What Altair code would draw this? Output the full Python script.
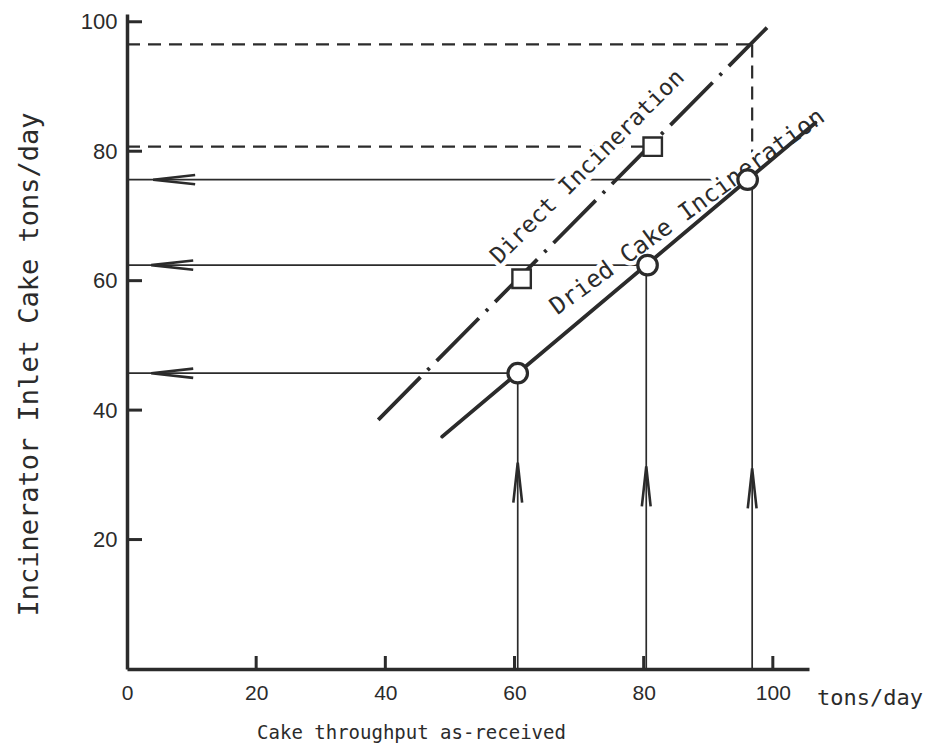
import altair as alt
import pandas as pd

# ---------------- data ----------------
x_tick_labels = [0, 20, 40, 60, 80, 100]
y_tick_labels = [20, 40, 60, 80, 100]
inner_x_ticks = [20, 40, 60, 80, 100]
inner_y_ticks = [20, 40, 60, 80, 100]

direct_x = [38.9, 99.1]
direct_y = [38.5, 99.1]
dried_x = [48.8, 106.6]
dried_y = [35.9, 84.4]

circle_x = [60.5, 80.6, 96.1]
circle_y = [45.7, 62.4, 75.6]
square_x = [61.1, 81.4]
square_y = [60.3, 80.7]

# solid guide lines (horizontal: from y axis to circle, vertical: from x axis to circle)
h_solid_y = [45.7, 62.4, 75.6]
h_solid_x2 = [60.5, 80.6, 96.1]
v_solid_x = [60.5, 80.4, 96.8]
v_solid_y2 = [45.7, 62.4, 75.6]

# dashed guide lines
dash_x = [0, 0, 96.8]
dash_y = [80.7, 96.5, 96.5]
dash_x2 = [81.4, 96.8, 96.8]
dash_y2 = [80.7, 96.5, 75.6]

# arrow heads (centre of each head)
left_arrow_x = [7.0, 7.0, 7.3]
left_arrow_y = [45.7, 62.4, 75.6]
up_arrow_x = [60.5, 80.4, 96.8]
up_arrow_y = [28.8, 28.2, 27.9]

label_direct = "Direct Incineration"
label_dried = "Dried Cake Incineration"
direct_label_x, direct_label_y = [71.3], [77.6]
dried_label_x, dried_label_y = [86.8], [70.6]

# ---------------- styling ----------------
INK = "#2b2b2b"
MONO = "DejaVu Sans Mono"
SANS = "Liberation Sans"

xs = alt.Scale(domain=[0, 105.6], nice=False, zero=False)
ys = alt.Scale(domain=[0, 101.2], nice=False, zero=False)

W, H = 682, 655

X_AXIS = alt.Axis(
    values=x_tick_labels, ticks=False, tickSize=0, grid=False,
    domainWidth=3.5, domainColor=INK,
    labelFont=SANS, labelFontSize=21, labelColor=INK, labelPadding=13,
    labelFlush=False,
    title="Cake throughput as-received", titleFont=MONO, titleFontSize=19,
    titleFontWeight="normal", titleColor=INK,
    titleX=284, titleY=69, titleAlign="center", titleBaseline="alphabetic")
Y_AXIS = alt.Axis(
    values=y_tick_labels, ticks=False, tickSize=0, grid=False,
    domainWidth=3.5, domainColor=INK,
    labelFont=SANS, labelFontSize=22, labelColor=INK, labelPadding=10,
    labelFlush=False,
    title="Incinerator Inlet Cake  tons/day", titleFont=MONO, titleFontSize=27,
    titleFontWeight="normal", titleColor=INK, titleAngle=270,
    titleX=-98, titleY=350, titleAlign="center", titleBaseline="middle")


def X(field="x"):
    return alt.X(f"{field}:Q", scale=xs, axis=X_AXIS)


def Y(field="y"):
    return alt.Y(f"{field}:Q", scale=ys, axis=Y_AXIS)


# inner ticks
xt = alt.Chart(pd.DataFrame({"x": inner_x_ticks})).mark_rule(
    color=INK, strokeWidth=3).encode(
    x=X(), y=alt.value(H), y2=alt.value(H - 13))
yt = alt.Chart(pd.DataFrame({"y": inner_y_ticks})).mark_rule(
    color=INK, strokeWidth=3).encode(
    y=Y(), x=alt.value(0), x2=alt.value(15))

# solid guides
hs = alt.Chart(pd.DataFrame({"x": [0] * 3, "y": h_solid_y, "x2": h_solid_x2})).mark_rule(
    color=INK, strokeWidth=1.7).encode(x=X(), x2="x2:Q", y=Y())
vs = alt.Chart(pd.DataFrame({"x": v_solid_x, "y": [0] * 3, "y2": v_solid_y2})).mark_rule(
    color=INK, strokeWidth=1.7).encode(x=X(), y=Y(), y2="y2:Q")

# dashed guides
ds = alt.Chart(pd.DataFrame({"x": dash_x, "y": dash_y, "x2": dash_x2, "y2": dash_y2})).mark_rule(
    color=INK, strokeWidth=2.2, strokeDash=[13, 8]).encode(
    x=X(), x2="x2:Q", y=Y(), y2="y2:Q")


def label_layers(text, lx, ly, angle, size):
    df = pd.DataFrame({"x": lx, "y": ly, "t": [text]})
    halo = alt.Chart(df).mark_text(
        font=MONO, fontSize=size, angle=angle, align="center", baseline="middle",
        stroke="white", strokeWidth=9, color="white").encode(x=X(), y=Y(), text="t:N")
    txt = alt.Chart(df).mark_text(
        font=MONO, fontSize=size, angle=angle, align="center", baseline="middle",
        color=INK).encode(x=X(), y=Y(), text="t:N")
    return halo, txt


d_halo, d_txt = label_layers(label_direct, direct_label_x, direct_label_y, 315, 23)
c_halo, c_txt = label_layers(label_dried, dried_label_x, dried_label_y, 324, 24)

# main lines
direct = alt.Chart(pd.DataFrame({"x": direct_x, "y": direct_y})).mark_line(
    color=INK, strokeWidth=3.8, strokeDash=[60, 10, 3, 10], strokeCap="butt").encode(
    x=X(), y=Y())
dried = alt.Chart(pd.DataFrame({"x": dried_x, "y": dried_y})).mark_line(
    color=INK, strokeWidth=3.8, strokeCap="round").encode(x=X(), y=Y())

# arrow heads
la = alt.Chart(pd.DataFrame({"x": left_arrow_x, "y": left_arrow_y})).mark_point(
    shape="M 1 -0.22 L -1 0 L 1 0.22", filled=False, stroke=INK, strokeWidth=2.6,
    size=1764, opacity=1).encode(x=X(), y=Y())
ua = alt.Chart(pd.DataFrame({"x": up_arrow_x, "y": up_arrow_y})).mark_point(
    shape="M -0.22 1 L 0 -1 L 0.22 1", filled=False, stroke=INK, strokeWidth=2.6,
    size=1600, opacity=1).encode(x=X(), y=Y())

# markers
circles = alt.Chart(pd.DataFrame({"x": circle_x, "y": circle_y})).mark_point(
    shape="circle", filled=True, fill="white", stroke=INK, strokeWidth=3.2,
    size=380, opacity=1).encode(x=X(), y=Y())
squares = alt.Chart(pd.DataFrame({"x": square_x, "y": square_y})).mark_point(
    shape="square", filled=True, fill="white", stroke=INK, strokeWidth=2.4,
    size=340, opacity=1).encode(x=X(), y=Y())

# unit label at the right end of the x axis
unit = alt.Chart(pd.DataFrame({"t": ["tons/day"]})).mark_text(
    font=MONO, fontSize=22, align="left", baseline="alphabetic", color=INK).encode(
    text="t:N", x=alt.value(690), y=alt.value(H + 36))

chart = alt.layer(
    hs, vs, ds, d_halo, c_halo, d_txt, c_txt, direct, dried,
    xt, yt, la, ua, circles, squares, unit
).properties(
    width=W, height=H,
    autosize=alt.AutoSizeParams(type="none"),
    padding={"left": 119, "top": 6, "right": 116, "bottom": 75},
    background="white",
).configure_view(stroke=None)

chart.save("out.html", embed_options={"renderer": "svg", "actions": False})
